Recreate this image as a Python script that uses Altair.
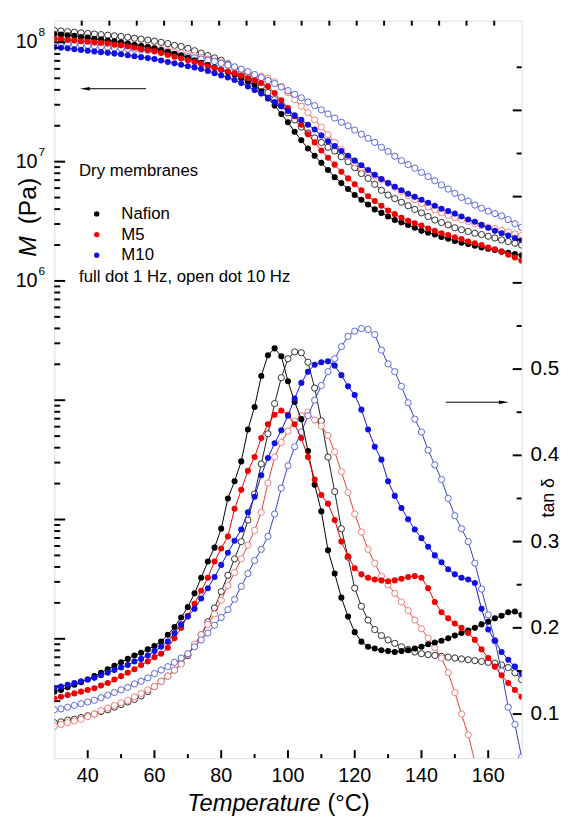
import altair as alt
import pandas as pd

# ---------------- data ----------------
T = list(range(30, 171, 2))  # temperature, °C

# storage modulus M, in MPa
nafion_1hz_M = [117.5, 116.1, 114.8, 113.5, 110.9, 109.6, 107.2, 105.9, 103.5, 102.3,
                100.0, 97.7, 95.5, 93.3, 91.2, 89.1, 86.1, 83.2, 80.4, 77.6,
                74.1, 70.8, 67.6, 64.6, 61.7, 58.9, 56.2, 53.7, 50.1, 46.8,
                43.7, 38.9, 33.9, 29.5, 25.1, 21.4, 17.8, 15.1, 12.9, 11.2,
                9.77, 8.51, 7.41, 6.61, 5.89, 5.25, 4.79, 4.37, 3.98, 3.72,
                3.47, 3.24, 3.09, 2.95, 2.79, 2.63, 2.54, 2.45, 2.34, 2.26,
                2.16, 2.09, 2.04, 1.97, 1.91, 1.86, 1.82, 1.76, 1.72, 1.68,
                1.64]
nafion_10hz_M = [125.9, 124.5, 123.0, 121.6, 120.2, 118.9, 117.5, 116.1, 114.8, 113.5,
                 112.2, 110.4, 108.4, 106.4, 104.7, 102.3, 100.0, 97.7, 94.4, 92.3,
                 89.1, 85.1, 81.3, 77.6, 74.1, 70.8, 66.1, 61.7, 56.2, 52.5,
                 47.9, 42.7, 38.0, 33.1, 29.5, 25.7, 22.4, 19.5, 17.4, 15.8,
                 14.5, 13.2, 12.3, 11.0, 10.0, 8.91, 7.94, 7.24, 6.46, 5.75,
                 5.25, 4.90, 4.57, 4.27, 3.98, 3.72, 3.47, 3.24, 3.09, 2.95,
                 2.79, 2.69, 2.60, 2.51, 2.45, 2.37, 2.29, 2.21, 2.14, 2.07,
                 2.00]
m5_1hz_M = [107.2, 105.9, 104.7, 103.5, 102.3, 101.2, 100.0, 98.9, 97.7, 95.5,
            94.4, 92.3, 90.2, 88.1, 86.1, 84.1, 81.3, 78.5, 75.9, 73.3,
            70.8, 68.4, 66.1, 63.1, 61.0, 58.9, 56.9, 55.0, 52.5, 50.1,
            47.9, 45.7, 42.7, 37.6, 32.7, 28.2, 24.0, 20.4, 17.0, 14.5,
            12.4, 10.8, 9.44, 8.22, 7.24, 6.46, 5.75, 5.13, 4.68, 4.27,
            3.89, 3.63, 3.39, 3.20, 3.05, 2.92, 2.75, 2.63, 2.51, 2.43,
            2.32, 2.24, 2.14, 2.07, 2.00, 1.91, 1.84, 1.76, 1.66, 1.57,
            1.48]
m5_10hz_M = [109.6, 108.4, 107.2, 105.9, 104.7, 103.5, 102.3, 101.2, 100.0, 98.9,
             97.7, 95.9, 94.2, 92.5, 90.8, 89.1, 87.1, 85.1, 83.2, 81.3,
             79.4, 76.9, 74.5, 72.1, 69.8, 67.6, 64.6, 61.7, 58.9, 56.2,
             53.7, 51.9, 50.1, 46.8, 42.7, 38.0, 33.1, 29.2, 25.7, 22.4,
             19.5, 16.8, 14.5, 12.6, 11.0, 9.77, 8.91, 8.22, 7.59, 7.08,
             6.61, 6.10, 5.62, 5.19, 4.79, 4.47, 4.17, 3.94, 3.72, 3.55,
             3.39, 3.27, 3.16, 3.02, 2.92, 2.82, 2.75, 2.66, 2.57, 2.48,
             2.40]
m10_1hz_M = [91.2, 90.2, 89.1, 87.7, 86.5, 85.1, 83.9, 82.8, 81.7, 80.5,
             79.4, 78.0, 76.6, 75.2, 73.8, 72.4, 70.5, 68.5, 66.7, 64.9,
             63.1, 61.7, 59.8, 57.5, 55.2, 52.8, 50.7, 48.4, 45.7, 42.7,
             39.8, 37.2, 34.3, 31.6, 29.2, 26.6, 24.5, 22.4, 20.4, 18.6,
             16.6, 14.8, 13.5, 12.3, 11.2, 10.2, 9.33, 8.51, 7.76, 7.16,
             6.61, 6.17, 5.75, 5.37, 5.07, 4.79, 4.52, 4.27, 4.03, 3.85,
             3.67, 3.47, 3.27, 3.13, 2.95, 2.79, 2.63, 2.51, 2.40, 2.29,
             2.19]
m10_10hz_M = [100.0, 98.9, 97.7, 96.6, 95.5, 94.4, 93.3, 92.3, 91.2, 90.2,
              89.1, 88.3, 87.5, 86.7, 85.9, 85.1, 83.2, 81.3, 79.4, 77.6,
              75.9, 74.1, 72.4, 70.8, 69.2, 66.8, 64.6, 62.4, 59.6, 56.9,
              53.7, 50.7, 47.9, 45.2, 42.2, 39.4, 36.7, 34.3, 31.6, 29.5,
              27.2, 25.1, 23.2, 21.4, 20.0, 18.4, 17.0, 15.7, 14.5, 13.2,
              12.2, 11.1, 10.2, 9.44, 8.81, 8.13, 7.50, 6.92, 6.38, 5.89,
              5.43, 5.01, 4.68, 4.32, 4.07, 3.85, 3.67, 3.51, 3.27, 3.02,
              2.82]

# loss tangent
nafion_1hz_tan = [0.126, 0.128, 0.131, 0.134, 0.137, 0.140, 0.144, 0.148, 0.152, 0.156,
                  0.160, 0.164, 0.168, 0.171, 0.175, 0.179, 0.184, 0.192, 0.201, 0.212,
                  0.224, 0.240, 0.258, 0.277, 0.293, 0.315, 0.350, 0.370, 0.393, 0.430,
                  0.456, 0.492, 0.516, 0.524, 0.515, 0.486, 0.462, 0.442, 0.405, 0.366,
                  0.335, 0.290, 0.263, 0.235, 0.213, 0.195, 0.184, 0.178, 0.176, 0.174,
                  0.173, 0.172, 0.173, 0.174, 0.176, 0.178, 0.181, 0.183, 0.185, 0.188,
                  0.191, 0.194, 0.197, 0.200, 0.204, 0.207, 0.211, 0.214, 0.218, 0.219,
                  0.215]
nafion_10hz_tan = [0.090, 0.091, 0.093, 0.094, 0.096, 0.098, 0.100, 0.103, 0.105, 0.108,
                   0.111, 0.114, 0.117, 0.121, 0.126, 0.132, 0.138, 0.144, 0.151, 0.159,
                   0.168, 0.180, 0.192, 0.207, 0.223, 0.242, 0.261, 0.280, 0.300, 0.325,
                   0.355, 0.390, 0.425, 0.460, 0.490, 0.512, 0.520, 0.519, 0.508, 0.478,
                   0.440, 0.398, 0.358, 0.315, 0.282, 0.246, 0.225, 0.209, 0.198, 0.191,
                   0.186, 0.182, 0.178, 0.175, 0.172, 0.170, 0.169, 0.168, 0.167, 0.166,
                   0.165, 0.164, 0.163, 0.162, 0.161, 0.160, 0.159, 0.157, 0.154, 0.148,
                   0.140]
m5_1hz_tan = [0.118, 0.120, 0.122, 0.124, 0.126, 0.128, 0.130, 0.133, 0.136, 0.140,
              0.144, 0.148, 0.152, 0.157, 0.161, 0.166, 0.170, 0.177, 0.188, 0.200,
              0.214, 0.228, 0.243, 0.258, 0.277, 0.292, 0.306, 0.338, 0.360, 0.382,
              0.398, 0.420, 0.436, 0.447, 0.452, 0.447, 0.436, 0.420, 0.398, 0.372,
              0.354, 0.344, 0.325, 0.300, 0.283, 0.269, 0.262, 0.258, 0.256, 0.255,
              0.254, 0.255, 0.257, 0.259, 0.260, 0.258, 0.246, 0.230, 0.218, 0.211,
              0.205, 0.200, 0.194, 0.186, 0.175, 0.165, 0.155, 0.145, 0.136, 0.128,
              0.120]
m5_10hz_tan = [0.086, 0.088, 0.090, 0.092, 0.094, 0.097, 0.100, 0.104, 0.107, 0.110,
               0.113, 0.116, 0.120, 0.124, 0.128, 0.132, 0.138, 0.144, 0.151, 0.158,
               0.169, 0.181, 0.192, 0.204, 0.216, 0.232, 0.249, 0.264, 0.280, 0.296,
               0.313, 0.334, 0.368, 0.398, 0.415, 0.428, 0.440, 0.446, 0.450, 0.441,
               0.434, 0.423, 0.404, 0.381, 0.357, 0.332, 0.311, 0.291, 0.275, 0.260,
               0.250, 0.240, 0.230, 0.220, 0.209, 0.199, 0.188, 0.177, 0.165, 0.148,
               0.125, 0.100, 0.076, 0.045]
m10_1hz_tan = [0.130, 0.132, 0.134, 0.136, 0.138, 0.140, 0.142, 0.145, 0.148, 0.151,
               0.154, 0.157, 0.161, 0.164, 0.168, 0.173, 0.178, 0.184, 0.194, 0.204,
               0.213, 0.222, 0.234, 0.246, 0.259, 0.273, 0.287, 0.301, 0.314, 0.334,
               0.352, 0.377, 0.397, 0.414, 0.429, 0.446, 0.466, 0.484, 0.497, 0.505,
               0.508, 0.509, 0.504, 0.493, 0.480, 0.470, 0.453, 0.430, 0.410, 0.395,
               0.370, 0.353, 0.339, 0.326, 0.314, 0.304, 0.294, 0.284, 0.276, 0.268,
               0.262, 0.258, 0.256, 0.252, 0.222, 0.198, 0.185, 0.172, 0.163, 0.155,
               0.147]
m10_10hz_tan = [0.105, 0.106, 0.108, 0.110, 0.112, 0.114, 0.116, 0.119, 0.122, 0.125,
                0.128, 0.131, 0.135, 0.138, 0.142, 0.147, 0.151, 0.155, 0.160, 0.165,
                0.170, 0.178, 0.186, 0.194, 0.203, 0.212, 0.221, 0.233, 0.248, 0.263,
                0.278, 0.291, 0.306, 0.332, 0.362, 0.388, 0.410, 0.427, 0.446, 0.464,
                0.481, 0.497, 0.512, 0.526, 0.538, 0.544, 0.547, 0.546, 0.540, 0.522,
                0.506, 0.497, 0.480, 0.461, 0.442, 0.427, 0.406, 0.389, 0.372, 0.350,
                0.330, 0.315, 0.300, 0.275, 0.245, 0.215, 0.185, 0.150, 0.108, 0.088,
                0.050]

# axis ticks / labels
x_major = [40, 60, 80, 100, 120, 140, 160]
x_major_labels = ["40", "60", "80", "100", "120", "140", "160"]
x_minor = [50, 70, 90, 110, 130, 150]
x_top_ticks = [38.2, 46.5, 54.7, 62.9, 71.2, 79.4, 87.6, 95.9,
               104.1, 112.4, 120.6, 128.8, 137.1, 145.3, 153.5, 161.8]
m_major = [1e3, 1e4, 1e5, 1e6, 1e7, 1e8]
m_minor = [k * 10 ** d for d in range(2, 8) for k in range(2, 10)]
m_label_values = [1e6, 1e7, 1e8]
m_label_base = ["10", "10", "10"]
m_label_exp = ["6", "7", "8"]
tan_major = [0.1, 0.2, 0.3, 0.4, 0.5, 0.6, 0.7, 0.8]
tan_minor = [0.15, 0.25, 0.35, 0.45, 0.55, 0.65, 0.75, 0.85]
tan_label_values = [0.1, 0.2, 0.3, 0.4, 0.5]
tan_label_text = ["0.1", "0.2", "0.3", "0.4", "0.5"]

legend_names = ["Nafion", "M5", "M10"]

# ---------------- styling ----------------
FONT = "Liberation Sans"
W, H = 474, 748
BLACK, RED, BLUE = "#000000", "#f00000", "#1010e0"
BLACK_O, RED_O, BLUE_O = "#303030", "#ee8080", "#5a68d8"

x_scale = alt.Scale(domain=[30, 170], nice=False, zero=False)
m_scale = alt.Scale(type="log", domain=[100, 1.52e8], nice=False)
tan_scale = alt.Scale(domain=[0.049, 0.904], nice=False, zero=False)


def series_layers(values, field, yscale, kind, color, line_color, mult=1.0):
    df = pd.DataFrame({"T": T[:len(values)], field: [v * mult for v in values]})
    base = alt.Chart(df)
    x = alt.X("T:Q", scale=x_scale, axis=None)
    y = alt.Y(f"{field}:Q", scale=yscale, axis=None)
    line = base.mark_line(color=line_color, strokeWidth=1, clip=True).encode(x=x, y=y)
    if kind == "filled":
        pts = base.mark_circle(size=38, color=color, opacity=1, clip=True).encode(x=x, y=y)
    else:
        pts = base.mark_point(shape="circle", size=40, filled=True, fill="white",
                              stroke=color, strokeWidth=1, opacity=1,
                              clip=True).encode(x=x, y=y)
    return [line, pts]


m_specs = [
    (nafion_10hz_M, "open", BLACK_O, "#202020"),
    (m5_10hz_M, "open", RED_O, "#e04040"),
    (m10_10hz_M, "open", BLUE_O, "#3040c0"),
    (nafion_1hz_M, "filled", BLACK, BLACK),
    (m5_1hz_M, "filled", RED, RED),
    (m10_1hz_M, "filled", BLUE, BLUE),
]
tan_specs = [
    (nafion_10hz_tan, "open", BLACK_O, "#202020"),
    (m5_10hz_tan, "open", RED_O, "#e04040"),
    (m10_10hz_tan, "open", BLUE_O, "#3040c0"),
    (nafion_1hz_tan, "filled", BLACK, BLACK),
    (m5_1hz_tan, "filled", RED, RED),
    (m10_1hz_tan, "filled", BLUE, BLUE),
]

left_layers = []
for vals, kind, c, lc in m_specs:
    left_layers += series_layers(vals, "M", m_scale, kind, c, lc, mult=1e6)

# left ticks (inward) and decade labels
left_layers.append(alt.Chart(pd.DataFrame({"v": m_major})).mark_rule(color="black", strokeWidth=2)
                   .encode(y=alt.Y("v:Q", scale=m_scale, axis=None), x=alt.value(0), x2=alt.value(11)))
left_layers.append(alt.Chart(pd.DataFrame({"v": m_minor})).mark_rule(color="black", strokeWidth=2)
                   .encode(y=alt.Y("v:Q", scale=m_scale, axis=None), x=alt.value(0), x2=alt.value(6)))
lab_df = pd.DataFrame({"v": m_label_values, "base": m_label_base, "exp": m_label_exp})
left_layers.append(alt.Chart(lab_df).mark_text(font=FONT, fontSize=20, align="right",
                                               baseline="middle", color="black")
                   .encode(y=alt.Y("v:Q", scale=m_scale, axis=None), x=alt.value(-17), text="base:N"))
left_layers.append(alt.Chart(lab_df).mark_text(font=FONT, fontSize=12, align="left",
                                               baseline="middle", dy=-10, color="black")
                   .encode(y=alt.Y("v:Q", scale=m_scale, axis=None), x=alt.value(-16), text="exp:N"))

right_layers = []
for vals, kind, c, lc in tan_specs:
    right_layers += series_layers(vals, "tan", tan_scale, kind, c, lc)
right_layers.append(alt.Chart(pd.DataFrame({"v": tan_major})).mark_rule(color="black", strokeWidth=2)
                    .encode(y=alt.Y("v:Q", scale=tan_scale, axis=None), x=alt.value(W), x2=alt.value(W - 9)))
right_layers.append(alt.Chart(pd.DataFrame({"v": tan_minor})).mark_rule(color="black", strokeWidth=2)
                    .encode(y=alt.Y("v:Q", scale=tan_scale, axis=None), x=alt.value(W), x2=alt.value(W - 5)))
right_layers.append(alt.Chart(pd.DataFrame({"v": tan_label_values, "s": tan_label_text}))
                    .mark_text(font=FONT, fontSize=21, align="left", baseline="middle", color="black")
                    .encode(y=alt.Y("v:Q", scale=tan_scale, axis=None), x=alt.value(W + 9), text="s:N"))

# bottom / top ticks (inward) and labels
annot = []
annot.append(alt.Chart(pd.DataFrame({"t": x_major})).mark_rule(color="black", strokeWidth=2)
             .encode(x=alt.X("t:Q", scale=x_scale, axis=None), y=alt.value(H), y2=alt.value(H - 8)))
annot.append(alt.Chart(pd.DataFrame({"t": x_minor})).mark_rule(color="black", strokeWidth=2)
             .encode(x=alt.X("t:Q", scale=x_scale, axis=None), y=alt.value(H), y2=alt.value(H - 4)))
annot.append(alt.Chart(pd.DataFrame({"t": x_top_ticks})).mark_rule(color="black", strokeWidth=2)
             .encode(x=alt.X("t:Q", scale=x_scale, axis=None), y=alt.value(0), y2=alt.value(5)))
annot.append(alt.Chart(pd.DataFrame({"t": x_major, "s": x_major_labels}))
             .mark_text(font=FONT, fontSize=20, align="center", baseline="middle", color="black")
             .encode(x=alt.X("t:Q", scale=x_scale, axis=None), y=alt.value(H + 18), text="s:N"))


def text(label, x, y, size=17, align="left", style="normal", angle=0, baseline="middle"):
    kw = dict(font=FONT, fontSize=size, align=align, baseline=baseline,
              fontStyle=style, color="black")
    if angle:
        kw["angle"] = angle
    return (alt.Chart(pd.DataFrame({"label": [label]})).mark_text(**kw)
            .encode(x=alt.value(x), y=alt.value(y), text="label:N"))


annot += [
    text("Dry membranes", 25, 153),
    text("full dot 1 Hz, open dot 10 Hz", 25, 260),
    text("Temperature", 270, 795, size=24, align="right", style="italic"),
    text("(°C)", 277, 795, size=24, align="left"),
    text("M", -27, 229, size=25, align="center", style="italic", angle=270),
    text("(Pa)", -27, 183, size=25, align="center", angle=270),
    text("tan δ", 502, 484, size=18, align="center", angle=270),
]
for name, c, yy in zip(legend_names, [BLACK, RED, BLUE], [196, 217, 238]):
    annot.append(alt.Chart(pd.DataFrame({"label": [name]})).mark_circle(size=30, color=c, opacity=1)
                 .encode(x=alt.value(43), y=alt.value(yy)))
    annot.append(text(name, 68, yy))

# arrows
annot.append(alt.Chart(pd.DataFrame({"a": [0]})).mark_rule(color="black", strokeWidth=1)
             .encode(x=alt.value(31), x2=alt.value(93), y=alt.value(69)))
annot.append(alt.Chart(pd.DataFrame({"a": [0]})).mark_point(shape="M-1,0L1,-0.35L1,0.35Z", size=100,
                                                             filled=True, color="black", opacity=1)
             .encode(x=alt.value(31), y=alt.value(69)))
annot.append(alt.Chart(pd.DataFrame({"a": [0]})).mark_rule(color="black", strokeWidth=1)
             .encode(x=alt.value(397), x2=alt.value(456), y=alt.value(387)))
annot.append(alt.Chart(pd.DataFrame({"a": [0]})).mark_point(shape="M1,0L-1,-0.35L-1,0.35Z", size=100,
                                                             filled=True, color="black", opacity=1)
             .encode(x=alt.value(456), y=alt.value(387)))

left = alt.layer(*left_layers)
right = alt.layer(*right_layers)
chart = (alt.layer(left, right, *annot)
         .resolve_scale(y="independent")
         .properties(width=W, height=H,
                     padding={"left": 47, "top": 7, "right": 42, "bottom": 60},
                     autosize=alt.AutoSizeParams(type="none"))
         .configure_view(stroke="black", strokeWidth=2.5)
         .configure(background="white"))

chart.save("out.html", embed_options={"renderer": "svg", "actions": False})
